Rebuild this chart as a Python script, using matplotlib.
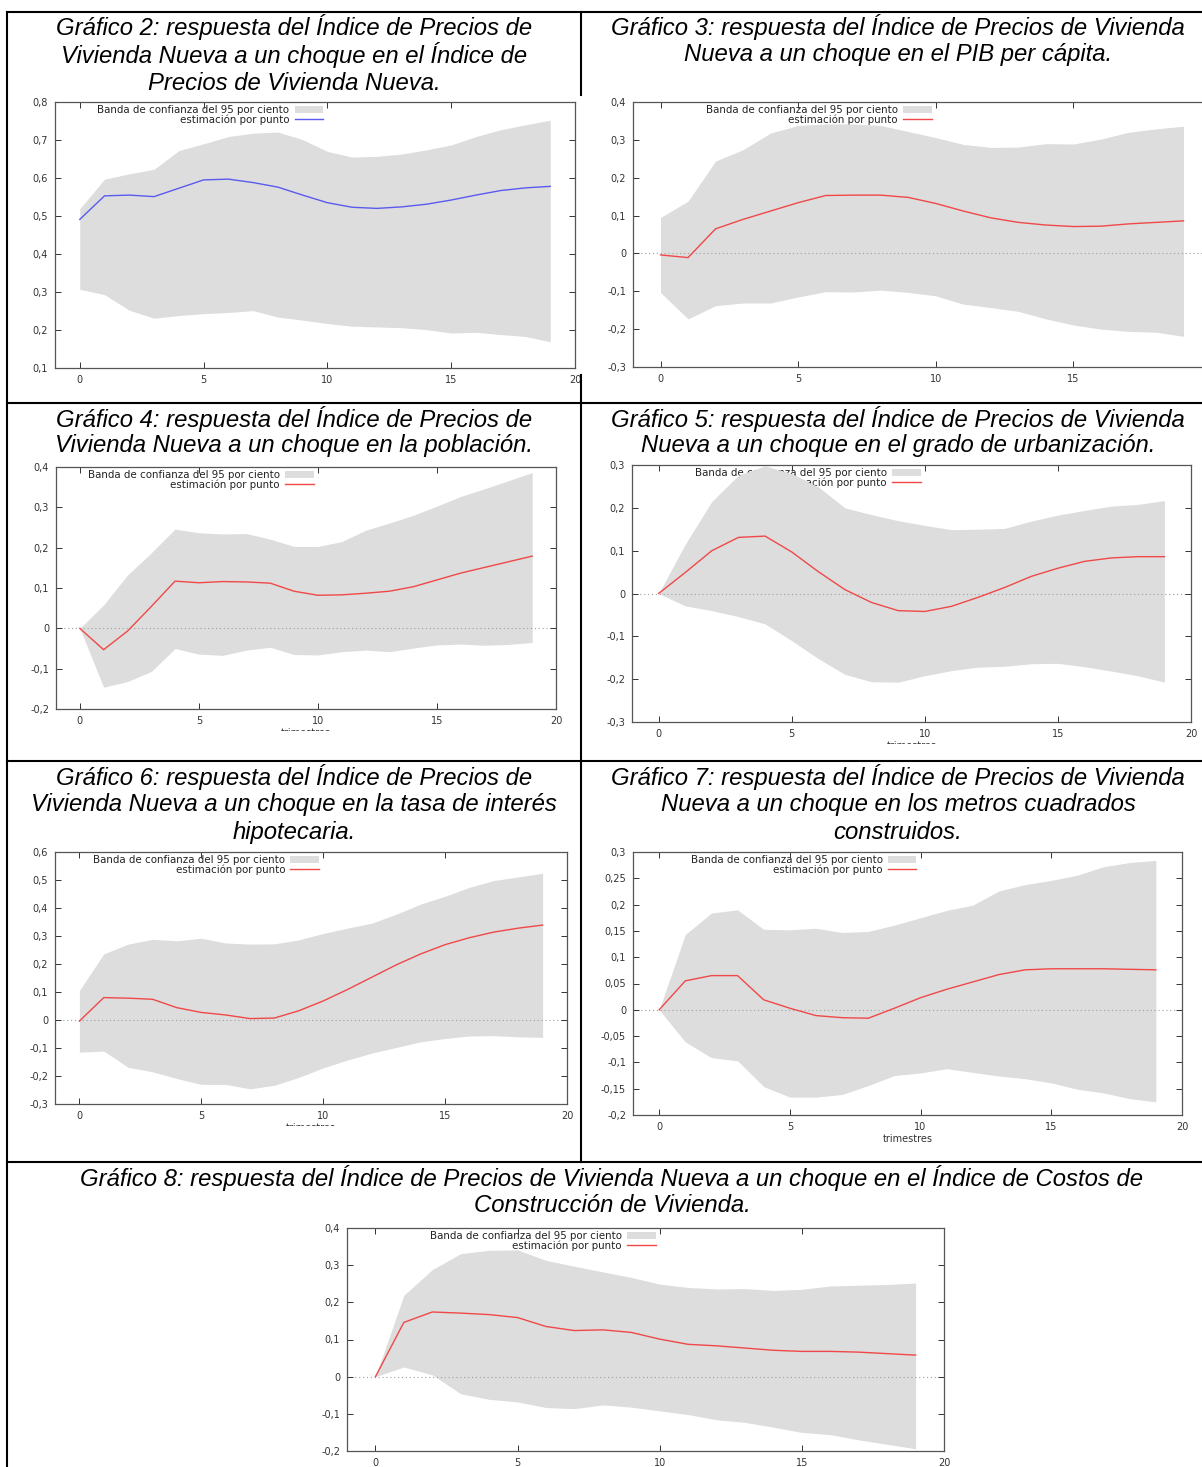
import numpy as np
import matplotlib
matplotlib.use("Agg")
import matplotlib.pyplot as plt
from matplotlib.patches import Patch
from matplotlib.lines import Line2D
from matplotlib.transforms import Bbox

W, H = 1202, 1467

trimestres = list(range(20))

# Gráfico 2: choque en el IPVN
g2_punto = [0.491, 0.553, 0.555, 0.551, 0.573, 0.595, 0.597, 0.588, 0.576, 0.555,
            0.535, 0.523, 0.520, 0.524, 0.531, 0.542, 0.555, 0.567, 0.574, 0.578]
g2_sup = [0.519, 0.597, 0.611, 0.623, 0.672, 0.690, 0.709, 0.718, 0.721, 0.701,
          0.670, 0.655, 0.657, 0.663, 0.674, 0.687, 0.709, 0.727, 0.740, 0.752]
g2_inf = [0.307, 0.293, 0.252, 0.231, 0.238, 0.243, 0.246, 0.251, 0.234, 0.226,
          0.217, 0.210, 0.208, 0.206, 0.201, 0.192, 0.194, 0.188, 0.183, 0.169]

# Gráfico 3: choque en el PIB per cápita
g3_punto = [-0.004, -0.011, 0.065, 0.090, 0.112, 0.134, 0.153, 0.154, 0.154, 0.148,
            0.132, 0.112, 0.094, 0.082, 0.075, 0.071, 0.072, 0.078, 0.082, 0.086]
g3_sup = [0.095, 0.138, 0.244, 0.274, 0.318, 0.338, 0.342, 0.342, 0.338, 0.322,
          0.306, 0.288, 0.280, 0.281, 0.290, 0.289, 0.302, 0.320, 0.329, 0.336]
g3_inf = [-0.103, -0.173, -0.138, -0.131, -0.131, -0.115, -0.101, -0.102, -0.097, -0.103,
          -0.112, -0.134, -0.143, -0.153, -0.173, -0.189, -0.200, -0.206, -0.208, -0.219]

# Gráfico 4: choque en la población
g4_punto = [0.0, -0.053, -0.007, 0.054, 0.117, 0.113, 0.116, 0.115, 0.112, 0.092,
            0.082, 0.083, 0.087, 0.092, 0.103, 0.120, 0.137, 0.151, 0.165, 0.179]
g4_sup = [0.0, 0.058, 0.132, 0.187, 0.246, 0.237, 0.234, 0.235, 0.221, 0.203,
          0.203, 0.215, 0.243, 0.261, 0.280, 0.303, 0.327, 0.346, 0.366, 0.386]
g4_inf = [0.0, -0.146, -0.132, -0.107, -0.050, -0.064, -0.067, -0.054, -0.047, -0.065,
          -0.066, -0.058, -0.054, -0.058, -0.049, -0.041, -0.039, -0.042, -0.040, -0.035]

# Gráfico 5: choque en el grado de urbanización
g5_punto = [0.0, 0.049, 0.100, 0.131, 0.134, 0.097, 0.051, 0.009, -0.021, -0.040,
            -0.042, -0.030, -0.009, 0.014, 0.040, 0.059, 0.075, 0.083, 0.086, 0.086]
g5_sup = [0.0, 0.115, 0.215, 0.276, 0.298, 0.280, 0.249, 0.200, 0.184, 0.170,
          0.159, 0.149, 0.150, 0.152, 0.169, 0.183, 0.194, 0.204, 0.208, 0.217]
g5_inf = [0.0, -0.029, -0.040, -0.054, -0.071, -0.110, -0.152, -0.189, -0.206, -0.207,
          -0.192, -0.180, -0.172, -0.170, -0.164, -0.163, -0.171, -0.181, -0.192, -0.207]

# Gráfico 6: choque en la tasa de interés hipotecaria
g6_punto = [-0.004, 0.080, 0.078, 0.074, 0.044, 0.027, 0.018, 0.005, 0.007, 0.033,
            0.068, 0.109, 0.153, 0.197, 0.236, 0.269, 0.294, 0.314, 0.328, 0.339]
g6_sup = [0.105, 0.236, 0.271, 0.288, 0.283, 0.292, 0.275, 0.271, 0.272, 0.286,
          0.309, 0.328, 0.346, 0.378, 0.414, 0.442, 0.474, 0.498, 0.511, 0.524]
g6_inf = [-0.115, -0.111, -0.169, -0.185, -0.209, -0.230, -0.230, -0.246, -0.233, -0.205,
          -0.171, -0.143, -0.118, -0.098, -0.078, -0.066, -0.057, -0.056, -0.060, -0.062]

# Gráfico 7: choque en los metros cuadrados construidos
g7_punto = [0.0, 0.055, 0.065, 0.065, 0.019, 0.003, -0.011, -0.015, -0.016, 0.003,
            0.023, 0.039, 0.053, 0.067, 0.076, 0.078, 0.078, 0.078, 0.077, 0.076]
g7_sup = [0.0, 0.143, 0.184, 0.190, 0.153, 0.152, 0.155, 0.147, 0.149, 0.161,
          0.175, 0.189, 0.199, 0.226, 0.238, 0.246, 0.256, 0.272, 0.280, 0.284]
g7_inf = [0.0, -0.061, -0.091, -0.097, -0.146, -0.166, -0.166, -0.161, -0.144, -0.125,
          -0.120, -0.112, -0.119, -0.126, -0.131, -0.139, -0.151, -0.158, -0.169, -0.175]

# Gráfico 8: choque en el ICCV
g8_punto = [0.0, 0.146, 0.174, 0.171, 0.167, 0.159, 0.135, 0.124, 0.126, 0.119,
            0.101, 0.087, 0.083, 0.077, 0.071, 0.068, 0.068, 0.066, 0.062, 0.058]
g8_sup = [0.0, 0.219, 0.288, 0.331, 0.340, 0.341, 0.313, 0.297, 0.282, 0.267,
          0.249, 0.240, 0.236, 0.237, 0.232, 0.235, 0.244, 0.246, 0.248, 0.252]
g8_inf = [0.0, 0.026, 0.005, -0.046, -0.061, -0.068, -0.083, -0.086, -0.076, -0.082,
          -0.092, -0.102, -0.116, -0.123, -0.136, -0.150, -0.156, -0.170, -0.182, -0.194]

titulos = {
    2: ["Gráfico 2: respuesta del Índice de Precios de",
        "Vivienda Nueva a un choque en el Índice de",
        "Precios de Vivienda Nueva."],
    3: ["Gráfico 3: respuesta del Índice de Precios de Vivienda",
        "Nueva a un choque en el PIB per cápita."],
    4: ["Gráfico 4: respuesta del Índice de Precios de",
        "Vivienda Nueva a un choque en la población."],
    5: ["Gráfico 5: respuesta del Índice de Precios de Vivienda",
        "Nueva a un choque en el grado de urbanización."],
    6: ["Gráfico 6: respuesta del Índice de Precios de",
        "Vivienda Nueva a un choque en la tasa de interés",
        "hipotecaria."],
    7: ["Gráfico 7: respuesta del Índice de Precios de Vivienda",
        "Nueva a un choque en los metros cuadrados",
        "construidos."],
    8: ["Gráfico 8: respuesta del Índice de Precios de Vivienda Nueva a un choque en el Índice de Costos de",
        "Construcción de Vivienda."],
}

GRIS = "#dddddd"
ROJO = "#f04848"
AZUL = "#5a5af0"
TICKFONT = "DejaVu Sans"

fig = plt.figure(figsize=(W / 100, H / 100), dpi=100)


def px_rect(l, t, r, b):
    return [l / W, 1 - b / H, (r - l) / W, (b - t) / H]


def fmt(v):
    if abs(v) < 1e-9:
        return "0"
    return f"{v:g}".replace(".", ",")


def grafico(rect, punto, sup, inf, yticks, color, cero=True, corte=None, xticks=(0, 5, 10, 15, 20)):
    ax = fig.add_axes(px_rect(*rect))
    ax.fill_between(trimestres, inf, sup, color=GRIS, lw=0, zorder=1)
    if cero:
        ax.axhline(0, color="#a0a0a0", lw=0.8, ls=(0, (1, 2.5)), zorder=1.5)
    ax.plot(trimestres, punto, color=color, lw=1.0, zorder=2)
    ax.set_xlim(-1, 20)
    ax.set_ylim(yticks[0], yticks[-1])
    ax.set_xticks(list(xticks))
    ax.set_xticklabels([str(v) for v in xticks])
    ax.set_yticks(yticks)
    ax.set_yticklabels([fmt(v) for v in yticks])
    ax.tick_params(direction="in", top=True, right=True, length=4, width=0.7,
                   labelsize=7, colors="#333333", pad=5)
    for lab in ax.get_xticklabels() + ax.get_yticklabels():
        lab.set_family(TICKFONT)
    for s in ax.spines.values():
        s.set_color("#555555")
        s.set_linewidth(0.9)
    handles = [Patch(facecolor=GRIS, edgecolor="none",
                     label="Banda de confianza del 95 por ciento"),
               Line2D([], [], color=color, lw=1.0, label="estimación por punto")]
    leg = ax.legend(handles=handles, loc="upper right", bbox_to_anchor=(0.522, 1.0),
                    frameon=False, markerfirst=False, prop={"family": TICKFONT, "size": 7.4},
                    handlelength=2.8, handleheight=0.55, handletextpad=0.5,
                    labelspacing=-0.1, borderpad=0.3, borderaxespad=0)
    for t in leg.get_texts():
        t.set_color("#222222")
    leg.set_zorder(0.5)
    if corte is not None:
        ax.set_xlabel("trimestres", family=TICKFONT, fontsize=7, color="#333333", labelpad=1.5)
        lbl = ax.xaxis.label
        lbl.set_clip_box(Bbox.from_extents(0, H - corte, W, H))
        lbl.set_clip_on(True)
    return ax


def titulo(n, cx, ys):
    for linea, y in zip(titulos[n], ys):
        fig.text(cx / W, 1 - y / H, linea, ha="center", va="center",
                 family=["Liberation Sans", "DejaVu Sans"], style="italic",
                 fontsize=17.2, color="black")


grafico((55, 102, 575, 368), g2_punto, g2_sup, g2_inf,
        list(np.round(np.arange(0.1, 0.81, 0.1), 2)), AZUL, cero=False)
grafico((633, 102, 1211, 367), g3_punto, g3_sup, g3_inf,
        list(np.round(np.arange(-0.3, 0.41, 0.1), 2)), ROJO, xticks=(0, 5, 10, 15))
grafico((56, 467, 556, 709), g4_punto, g4_sup, g4_inf,
        list(np.round(np.arange(-0.2, 0.41, 0.1), 2)), ROJO, corte=731)
grafico((632, 465, 1191, 722), g5_punto, g5_sup, g5_inf,
        list(np.round(np.arange(-0.3, 0.31, 0.1), 2)), ROJO, corte=744)
grafico((55, 852, 567, 1104), g6_punto, g6_sup, g6_inf,
        list(np.round(np.arange(-0.3, 0.61, 0.1), 2)), ROJO, corte=1126)
grafico((633, 852, 1182, 1115), g7_punto, g7_sup, g7_inf,
        list(np.round(np.arange(-0.2, 0.31, 0.05), 2)), ROJO, corte=H)
grafico((347, 1228, 944, 1451), g8_punto, g8_sup, g8_inf,
        list(np.round(np.arange(-0.2, 0.41, 0.1), 2)), ROJO)

titulo(2, 294, [27, 55, 83])
titulo(3, 898, [27, 55])
titulo(4, 294, [419, 446])
titulo(5, 898, [419, 446])
titulo(6, 294, [777, 804, 832])
titulo(7, 898, [777, 804, 832])
titulo(8, 612, [1178, 1206])


def raya(x0, y0, x1, y1):
    fig.add_artist(Line2D([x0 / W, x1 / W], [1 - y0 / H, 1 - y1 / H],
                          transform=fig.transFigure, color="black", lw=1.5))


# bordes de la tabla
raya(7, 12, W, 12)
raya(7, 403, W, 403)
raya(7, 761, W, 761)
raya(7, 1162, W, 1162)
raya(7, 12, 7, H)
raya(581, 12, 581, 95)
raya(581, 375, 581, 1162)

fig.savefig("out.png", dpi=100)
